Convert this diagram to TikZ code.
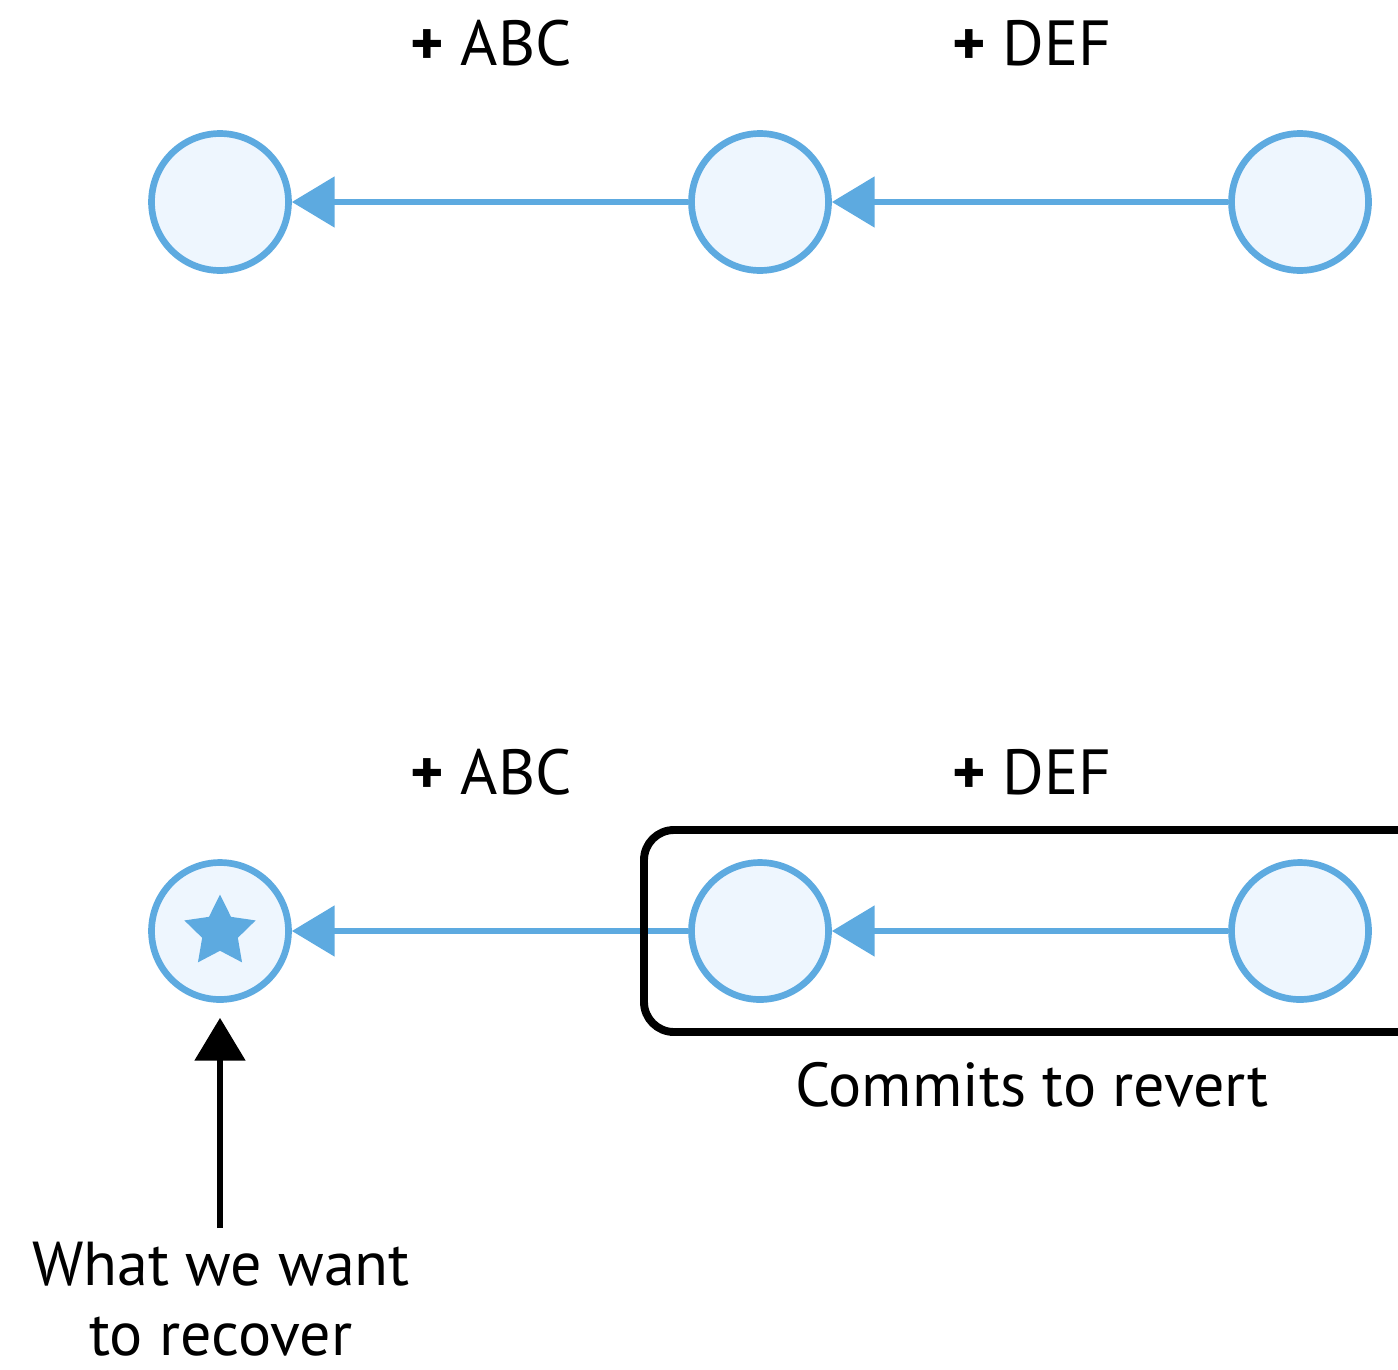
\documentclass[tikz,border=0pt]{standalone}
\usepackage{fontspec}
\setmainfont{PT Sans}
\usetikzlibrary{arrows.meta,shapes.geometric}
\definecolor{commitblue}{HTML}{5DAAE0}
\definecolor{commitfill}{HTML}{EEF6FE}
\begin{document}
\begin{tikzpicture}[x=0.02cm,y=-0.02cm,
  commit/.style={circle,draw=commitblue,fill=commitfill,line width=3.8pt,
    minimum size=2.74cm,inner sep=0pt},
  parent/.style={draw=commitblue,line width=3.6pt,
    -{Triangle[length=24.4pt,width=28.3pt]}},
  pointer/.style={draw=black,line width=3.6pt,
    -{Triangle[length=24.4pt,width=28.3pt]}},
  change/.style={font=\fontsize{36.3}{42}\selectfont,anchor=base,inner sep=0pt},
  caption/.style={font=\fontsize{35.3}{42}\selectfont,inner sep=0pt},
  groupbox/.style={draw=black,line width=4.5pt,rounded corners=0.6cm}]
\useasboundingbox (0,0) rectangle (1398,1369);
\clip (0,0) rectangle (1398,1369);

% first history: three commits
\node[commit] (a1) at (220,202) {};
\node[commit] (b1) at (760,202) {};
\node[commit] (c1) at (1300,202) {};
\draw[parent] (b1) -- (a1);
\draw[parent] (c1) -- (b1);
\node[change] (abc1) at (491,65) {\textbf{+} ABC};
\node[change] (def1) at (1032,65) {\textbf{+} DEF};

% second history: the same commits, two marked for revert
\node[commit] (a2) at (220,931) {};
\node[star,star points=5,star point ratio=2,fill=commitblue,
  minimum size=1.5cm,inner sep=0pt] (goal) at (220,932) {};
\node[commit] (b2) at (760,931) {};
\node[commit] (c2) at (1300,931) {};
\draw[parent] (b2) -- (a2);
\draw[parent] (c2) -- (b2);
\node[change] (abc2) at (491,794) {\textbf{+} ABC};
\node[change] (def2) at (1032,794) {\textbf{+} DEF};

\draw[groupbox] (644,830) rectangle (1440,1032);
\node[caption,anchor=base] (revert) at (1032,1106) {Commits to revert};

\coordinate (tail) at (220,1228);
\draw[pointer,shorten >=15*0.02cm] (tail) -- (a2);
\node[caption,anchor=base] (want) at (221,1285) {What we want};
\node[caption,anchor=base] (want2) at (221,1355) {to recover};
\end{tikzpicture}
\end{document}
